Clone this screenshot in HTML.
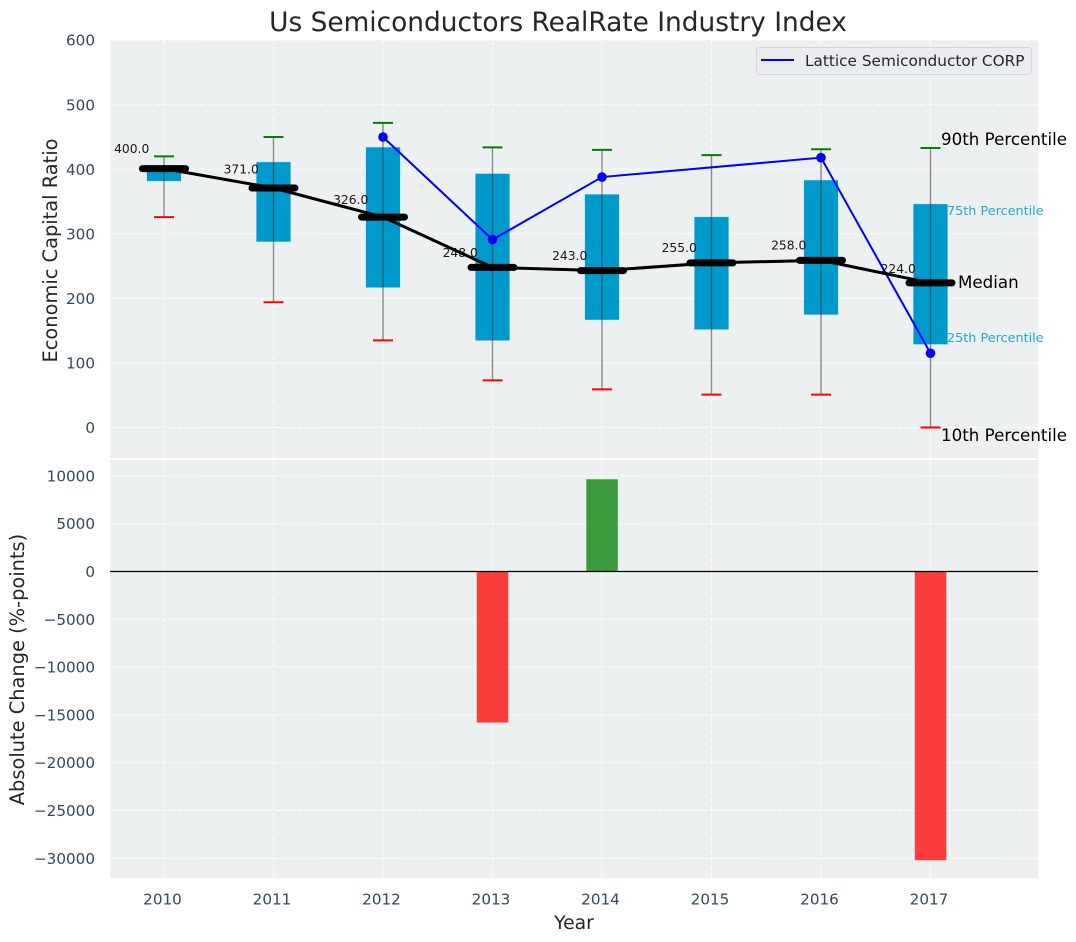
<!DOCTYPE html>
<html>
<head>
<meta charset="utf-8">
<style>
html,body{margin:0;padding:0;background:#fff;}
svg{display:block;font-family:"DejaVu Sans","Liberation Sans",sans-serif;}
</style>
</head>
<body>
<svg id="chart" width="1076" height="942" viewBox="0 0 1076 942" xmlns="http://www.w3.org/2000/svg">
<rect x="110" y="40" width="928" height="418" fill="#ecf0f1"/>
<rect x="110" y="460" width="928" height="418" fill="#ecf0f1"/>
<g id="grid"></g>
<g id="marks"></g>
<g id="labels"></g>
<text x="558" y="31" text-anchor="middle" font-size="26.4" fill="#262626">Us Semiconductors RealRate Industry Index</text>
<text transform="translate(57,250.5) rotate(-90)" text-anchor="middle" font-size="19.4" fill="#262626">Economic Capital Ratio</text>
<text transform="translate(24,669.5) rotate(-90)" text-anchor="middle" font-size="19.4" fill="#262626">Absolute Change (%-points)</text>
<text x="574" y="929" text-anchor="middle" font-size="18.8" fill="#262626">Year</text>
<g>
<rect x="756.5" y="47.5" width="275" height="27" rx="3" fill="#ebecf0" stroke="#d5d6da" stroke-width="1"/>
<line x1="761" y1="60" x2="794" y2="60" stroke="#0000ff" stroke-width="2"/>
<text x="805" y="66" font-size="15.3" fill="#262626">Lattice Semiconductor CORP</text>
</g>
<text x="941" y="145" font-size="16.7" fill="#000">90th Percentile</text>
<text x="947" y="215" font-size="12.8" fill="#0099cc" fill-opacity="0.85">75th Percentile</text>
<text x="958" y="288" font-size="16.7" fill="#000">Median</text>
<text x="947" y="342" font-size="12.8" fill="#0099cc" fill-opacity="0.85">25th Percentile</text>
<text x="941" y="441" font-size="16.7" fill="#000">10th Percentile</text>
<script>
const years = [2010, 2011, 2012, 2013, 2014, 2015, 2016, 2017];
const p10 = [326, 194, 135, 73, 59, 51, 51, 0];
const p25 = [382, 288, 217, 135, 167, 152, 175, 129];
const medians = [401, 371, 326, 248, 243, 255, 259, 224];
const medianLabels = [400, 371, 326, 248, 243, 255, 258, 224];
const p75 = [405, 411, 434, 393, 361, 326, 383, 346];
const p90 = [420, 450, 472, 434, 430, 422, 431, 433];
const lattice = [null, null, 450, 291, 388, null, 418, 115];
const changes = [0, 0, 0, -15800, 9650, 0, 0, -30200];
const topTicks = [0, 100, 200, 300, 400, 500, 600];
const bottomTicks = [10000, 5000, 0, -5000, -10000, -15000, -20000, -25000, -30000];

const NS = 'http://www.w3.org/2000/svg';
const xScale = v => 164 + (v - 2010) * 109.5;
const yTop = v => 427.5 - v * 0.6455;
const yBottom = v => 571.5 - v * 0.00956;
const grid = document.getElementById('grid');
const marks = document.getElementById('marks');
const labels = document.getElementById('labels');
function mk(parent, tag, attrs, text) {
  const el = document.createElementNS(NS, tag);
  for (const k in attrs) el.setAttribute(k, attrs[k]);
  if (text !== undefined) el.textContent = text;
  parent.appendChild(el);
  return el;
}
const gridStyle = {stroke: '#ffffff', 'stroke-width': 1, 'stroke-dasharray': '5 2.5', 'stroke-opacity': 0.9};
const tickStyle = {fill: '#34495e', 'font-size': 15.2};

topTicks.forEach(t => {
  const g = mk(grid, 'line', Object.assign({x1: 110, x2: 1038, y1: yTop(t), y2: yTop(t)}, gridStyle));
  
  
  const l = mk(labels, 'text', Object.assign({x: 95, y: yTop(t) + 5.5, 'text-anchor': 'end'}, tickStyle), String(t));
  
  
});
bottomTicks.forEach(t => {
  const g = mk(grid, 'line', Object.assign({x1: 110, x2: 1038, y1: yBottom(t), y2: yBottom(t)}, gridStyle));
  
  
  const l = mk(labels, 'text', Object.assign({x: 95, y: yBottom(t) + 5.5, 'text-anchor': 'end'}, tickStyle), String(t).replace('-', '\u2212'));
  
  
});
years.forEach(y => {
  const x = xScale(y);
  const a = mk(grid, 'line', Object.assign({x1: x, x2: x, y1: 40, y2: 458}, gridStyle));
  
  
  const b = mk(grid, 'line', Object.assign({x1: x, x2: x, y1: 460, y2: 878}, gridStyle));
  
  
  const l = mk(labels, 'text', Object.assign({x: x - 1.5, y: 904.5, 'text-anchor': 'middle'}, tickStyle), String(y));
  
  
});

/* boxes */
years.forEach((y, i) => {
  const x = xScale(y);
  const box = mk(marks, 'rect', {x: x - 17, y: yTop(p75[i]), width: 34, height: yTop(p25[i]) - yTop(p75[i]), fill: '#0099cc', stroke: '#0099cc', 'stroke-opacity': 0.2, 'stroke-width': 1});
  
  
  const whisk = mk(marks, 'line', {x1: x, x2: x, y1: yTop(p90[i]), y2: yTop(p10[i]), stroke: '#333', 'stroke-opacity': 0.55, 'stroke-width': 1.4});
  
  
  const hi = mk(marks, 'line', {x1: x - 10, x2: x + 10, y1: yTop(p90[i]), y2: yTop(p90[i]), stroke: '#008000', 'stroke-width': 2});
  
  
  const lo = mk(marks, 'line', {x1: x - 10, x2: x + 10, y1: yTop(p10[i]), y2: yTop(p10[i]), stroke: '#ff0000', 'stroke-width': 2});
  
  
});

/* lattice line */
const latticePts = years.map((y, i) => lattice[i] === null ? null : [xScale(y), yTop(lattice[i])]).filter(Boolean);
const latticeLine = mk(marks, 'polyline', {points: latticePts.map(p => p.join(',')).join(' '), fill: 'none', stroke: '#0000ff', 'stroke-width': 2});


latticePts.forEach(p => {
  const c = mk(marks, 'circle', {cx: p[0], cy: p[1], r: 4.8, fill: '#0000ff'});
  
  
});

/* median line */
const medianLine = mk(marks, 'polyline', {points: years.map((y, i) => xScale(y) + ',' + yTop(medians[i])).join(' '), fill: 'none', stroke: '#000', 'stroke-width': 3});


years.forEach((y, i) => {
  const x = xScale(y);
  const m = mk(marks, 'line', {x1: x - 21.5, x2: x + 21.5, y1: yTop(medians[i]), y2: yTop(medians[i]), stroke: '#000', 'stroke-width': 7, 'stroke-linecap': 'round'});
  
  
  const t = mk(marks, 'text', {x: x - 32.3, y: yTop(medians[i] * 1.05 + 11) + 4.5, 'text-anchor': 'middle', 'font-size': 12.3, fill: '#000', 'fill-opacity': 0.9}, medianLabels[i].toFixed(1));
  
  
});

/* change bars */
years.forEach((y, i) => {
  if (changes[i] === 0) return;
  const x = xScale(y);
  const top = Math.min(yBottom(changes[i]), yBottom(0));
  const h = Math.abs(yBottom(changes[i]) - yBottom(0));
  const bar = mk(marks, 'rect', {x: x - 15.7, y: top, width: 31.5, height: h, fill: changes[i] < 0 ? '#ff0000' : '#008000', 'fill-opacity': 0.75});
  
  
});
const zero = mk(marks, 'line', {x1: 110, x2: 1038, y1: yBottom(0), y2: yBottom(0), stroke: '#000', 'stroke-width': 1.2});


</script>
</svg>
</body>
</html>
